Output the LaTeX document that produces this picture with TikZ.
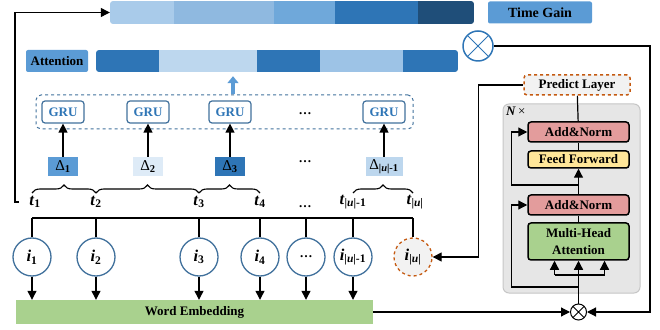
\documentclass[tikz,border=0pt]{standalone}
\usepackage{fontspec}
\setmainfont{Liberation Serif}
\usetikzlibrary{arrows.meta, decorations.pathreplacing, positioning, fit}

\definecolor{tgA}{HTML}{A9CBEA}
\definecolor{tgB}{HTML}{8FB9E0}
\definecolor{tgC}{HTML}{6FA8DA}
\definecolor{tgD}{HTML}{2E75B6}
\definecolor{tgE}{HTML}{1F4E79}
\definecolor{bluePale}{HTML}{DEEBF7}
\definecolor{blueLight}{HTML}{BDD7EE}
\definecolor{blueSoft}{HTML}{9DC3E6}
\definecolor{blueMid}{HTML}{5B9BD5}
\definecolor{blueDeep}{HTML}{2E75B6}
\definecolor{blueEdge}{HTML}{41719C}
\definecolor{greenFill}{HTML}{A9D18E}
\definecolor{redFill}{HTML}{E39C9C}
\definecolor{yellowFill}{HTML}{FFE699}
\definecolor{orangeEdge}{HTML}{C55A11}
\definecolor{grayPanel}{HTML}{E6E6E6}
\definecolor{grayLight}{HTML}{F2F2F2}

% columns of the item row
\def\cA{32}
\def\cB{96}
\def\cC{199}
\def\cD{260}
\def\cE{306}
\def\cF{353}
\def\cG{413}
% columns of the GRU row
\def\gA{63}
\def\gB{148}
\def\gC{230}
\def\gD{384}

\newcommand{\fbase}{\fontsize{13}{15}\selectfont}
\newcommand{\fbig}{\fontsize{16.5}{18}\selectfont}

\tikzset{
  arr/.style={-{Triangle[length=9pt,width=9pt]}, line width=1.2pt},
  ln/.style={line width=1.2pt},
  bluearr/.style={-{Triangle[length=7pt,width=11pt]}, line width=4pt, blueMid},
  tag/.style={fill=blueMid, rounded corners=2pt, font=\fbase\bfseries, minimum height=22pt, inner sep=0pt},
  grubox/.style={draw=blueEdge, line width=1.2pt, fill=white, rounded corners=3pt, minimum width=42pt,
    minimum height=22pt, font=\fbase\bfseries, text=blueDeep, inner sep=0pt},
  dbox/.style={minimum height=19pt, minimum width=30pt, inner sep=0pt, font=\fontsize{15}{17}\selectfont},
  item/.style={circle, draw=blueEdge, line width=1.3pt, fill=white, minimum size=38pt, inner sep=0pt, font=\fbig},
  tlbl/.style={font=\fbig, inner sep=1pt},
  blk/.style={draw, line width=1.5pt, rounded corners=3pt, minimum width=101pt, minimum height=20pt,
    inner sep=0pt, font=\fbase\bfseries},
  otimes/.style={circle, draw=#1, inner sep=0pt, path picture={
      \draw[#1, line width=1pt] (path picture bounding box.north west) -- (path picture bounding box.south east)
        (path picture bounding box.north east) -- (path picture bounding box.south west);}},
  brc/.style={decorate, decoration={brace, amplitude=8pt}, line width=1.1pt},
}
\newcommand{\tsub}[2]{\textbf{\textit{#1}}\textsubscript{\textbf{#2}}}
\newcommand{\segbar}[6]{%
  \begin{scope}
    \clip[rounded corners=3pt] (#2,#4) rectangle (#3,#5);
    \foreach \xa/\xb/\col in {#6}
      \fill[\col] (\xa,#4) rectangle (\xb,#5);
  \end{scope}
  \node[fit={(#2,#4) (#3,#5)}, inner sep=0pt] (#1) {};}

\begin{document}
\begin{tikzpicture}[x=1pt, y=1pt, font=\fbase]
  \useasboundingbox (0,0) rectangle (660,329);

  % bars on top
  \segbar{tgbar}{110}{474}{305}{328}{110/174/tgA, 174/274/tgB, 274/335/tgC, 335/418/tgD, 418/474/tgE}
  \node[tag, minimum width=104pt, font=\fontsize{14}{16}\selectfont\bfseries] (tglbl) at (540,316.5) {Time Gain};
  \segbar{attbar}{96}{458}{257}{279}{96/159/blueDeep, 159/257/blueLight, 257/320/blueDeep, 320/403/blueSoft, 403/458/blueDeep}
  \node[tag, minimum width=62pt] (attlbl) at (57,268) {Attention};
  \node[otimes=blueDeep, line width=1.5pt, minimum size=30pt] (bigx) at (478,283) {};

  % GRU row
  \node[draw=blueEdge, dashed, line width=1pt, rounded corners=5pt, minimum width=377pt, minimum height=34pt] (grus) at (224.5,217) {};
  \foreach \x/\n in {\gA/1, \gB/2, \gC/3, \gD/4}
    \node[grubox] (g\n) at (\x,217) {GRU};
  \node[inner sep=0pt] (gdots) at (305,215) {\textbf{…}};
  \coordinate (up) at (233,0);
  \draw[bluearr] (grus.north -| up) -- ([yshift=-4pt]attbar.south -| up);

  % time intervals
  \node[dbox, fill=blueMid] (d1) at (\gA,162.5) {Δ\textsubscript{\textbf{1}}};
  \node[dbox, fill=bluePale] (d2) at (\gB,162.5) {Δ\textsubscript{\textbf{2}}};
  \node[dbox, fill=blueDeep] (d3) at (\gC,162.5) {Δ\textsubscript{\textbf{3}}};
  \node[dbox, fill=blueLight, minimum width=37pt] (d4) at (\gD,162.5) {Δ\textsubscript{\textbf{|\textit{u}|-1}}};
  \node[inner sep=0pt] (ddots) at (305,167) {\textbf{…}};
  \foreach \n in {1,...,4}
    \draw[arr] (d\n) -- (g\n);

  % time stamps
  \node[tlbl] (t1) at (\cA+3,127) {\tsub{t}{1}};
  \node[tlbl] (t2) at (\cB,127) {\tsub{t}{2}};
  \node[tlbl] (t3) at (\cC,127) {\tsub{t}{3}};
  \node[tlbl] (t4) at (\cD,127) {\tsub{t}{4}};
  \node[inner sep=0pt] (tdots) at (305,122) {\textbf{…}};
  \node[tlbl] (t6) at (\cF,127) {\tsub{t}{|\textit{u}|-1}};
  \node[tlbl] (t7) at (\cG+2,127) {\tsub{t}{|\textit{u}|}};
  \draw[brc] (\cA,136) -- (\cB,136);
  \draw[brc] (\cB,136) -- (\cC,136);
  \draw[brc] (\cC,136) -- (\cD,136);
  \draw[brc] (\cF,136) -- (\cG,136);
  \coordinate (lc) at (15,0);
  \draw[arr] ([xshift=-9pt]t1.west) -- (t1.west -| lc) |- (tgbar.west);

  % items
  \foreach \x [count=\k] in {\cA,\cB,\cC,\cD,\cE,\cF,\cG}
    \coordinate (b\k) at (\x,111);
  \draw[ln] (b1) -- (b7);
  \node[item] (i1) at (\cA,72) {\tsub{i}{1}};
  \node[item] (i2) at (\cB,72) {\tsub{i}{2}};
  \node[item] (i3) at (\cC,72) {\tsub{i}{3}};
  \node[item] (i4) at (\cD,72) {\tsub{i}{4}};
  \node[item, font=\fbase] (i5) at (\cE,72) {\textbf{…}};
  \node[item] (i6) at (\cF,72) {\tsub{i}{|\textit{u}|-1}};
  \node[item, draw=orangeEdge, dashed, fill=grayLight] (i7) at (\cG,72) {\tsub{i}{|\textit{u}|}};
  \foreach \k in {1,...,7}
    \draw[ln] (b\k) -- (i\k);
  \node[fill=greenFill, minimum width=357pt, minimum height=24pt, inner sep=0pt, font=\fbase\bfseries] (wemb) at (194.5,17) {Word Embedding};
  \foreach \k in {1,...,6}
    \draw[arr] (i\k) -- (i\k |- wemb.north);

  % transformer block
  \node[fill=grayPanel, draw=gray!45, line width=1pt, rounded corners=6pt, minimum width=137pt, minimum height=189pt] (panel) at (571.5,130.5) {};
  \node[anchor=north west, inner sep=0pt, font=\fbase] (nx) at (506,222) {\textbf{\textit{N}}\,×};
  \node[blk, fill=redFill] (an2) at (578.5,197) {Add\&Norm};
  \node[blk, fill=yellowFill, minimum height=17pt] (ff) at (578.5,169.5) {Feed Forward};
  \node[blk, fill=redFill] (an1) at (578.5,124) {Add\&Norm};
  \node[blk, fill=greenFill, minimum height=37pt, align=center, font=\fontsize{13}{17}\selectfont\bfseries] (mha) at (578.5,87.5) {Multi-Head\\Attention};
  \node[blk, draw=orangeEdge, dashed, fill=grayLight, minimum width=106pt] (pred) at (577,244) {Predict Layer};
  \node[otimes=black, line width=1pt, minimum size=16pt] (smallx) at (578.5,17) {};

  \draw[ln] (mha) -- (an1);
  \draw[arr] (an1) -- (ff);
  \draw[ln] (ff) -- (an2);
  \draw[ln] (an2) -- (pred);
  \coordinate (fork) at (0,54);
  \coordinate (rA) at (0,42);
  \coordinate (rB) at (0,144);
  \draw[arr] (smallx) -- (mha.south);
  \draw[ln] ([xshift=-24pt]mha.south |- fork) -- ([xshift=26pt]mha.south |- fork);
  \draw[arr] ([xshift=-24pt]mha.south |- fork) -- ([xshift=-24pt]mha.south);
  \draw[arr] ([xshift=26pt]mha.south |- fork) -- ([xshift=26pt]mha.south);
  \draw[arr] (mha.south |- rA) -| ([xshift=-16pt]an1.west) -- (an1.west);
  \draw[arr] (an1.north |- rB) -| ([xshift=-16pt]an2.west) -- (an2.west);

  % outer connectors
  \draw[arr] (wemb.east) -- (smallx.west);
  \coordinate (rc) at (650,0);
  \draw[arr] (bigx.east) -- (bigx -| rc) |- (smallx.east);
  \draw[arr] (pred.west) -| ([xshift=46pt]i7.east) -- (i7.east);
\end{tikzpicture}
\end{document}
